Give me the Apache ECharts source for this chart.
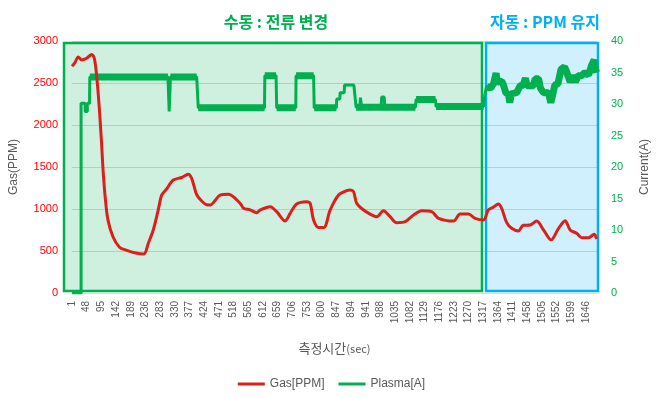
<!DOCTYPE html>
<html>
<head>
<meta charset="utf-8">
<script src="https://cdn.jsdelivr.net/npm/echarts@6.0.0/dist/echarts.min.js"></script>
<style>
  html, body { margin: 0; padding: 0; background: #fff; }
  #chart { width: 663px; height: 398px; }
</style>
</head>
<body>
<div id="chart"></div>
<script>
// gas concentration (left axis)
const gasSec = [1, 10, 21, 32, 48, 64, 72, 79, 88, 95, 101, 108, 116, 132, 153, 174, 201, 231, 245, 261,
  277, 288, 304, 325, 352, 373, 384, 400, 416, 432, 443, 475, 502, 539, 550, 571, 592, 603, 635, 656,
  683, 699, 720, 752, 763, 774, 790, 807, 827, 854, 880, 891, 902, 912, 934, 955, 976, 998, 1019, 1040,
  1067, 1094, 1120, 1152, 1174, 1222, 1243, 1270, 1291, 1318, 1333, 1349, 1365, 1376, 1392, 1408, 1429, 1445, 1467, 1488,
  1510, 1534, 1558, 1579, 1595, 1616, 1632, 1654, 1672, 1680];
const gasPpm = [2700, 2740, 2810, 2775, 2795, 2840, 2800, 2620, 2220, 1820, 1430, 1110, 870, 670, 545, 510, 480, 465, 590, 750,
  990, 1165, 1240, 1345, 1375, 1415, 1365, 1170, 1095, 1050, 1048, 1165, 1175, 1068, 1010, 990, 956, 988, 1028, 968,
  857, 948, 1060, 1087, 1068, 870, 780, 780, 988, 1167, 1218, 1226, 1206, 1068, 988, 940, 908, 980, 908, 837,
  849, 929, 980, 968, 889, 857, 940, 940, 889, 869, 988, 1020, 1060, 1008, 837, 770, 738, 806, 810, 857,
  750, 631, 770, 861, 750, 711, 659, 659, 699, 643];

// plasma current (right axis)
const plasmaSec = [1, 30, 30, 43, 43, 50, 50, 57, 58, 308, 312, 316, 400, 405, 617, 618, 654, 656, 717, 718,
  774, 776, 847, 848, 858, 859, 872, 873, 903, 910, 922, 924, 928, 990, 992, 1000, 1002, 1100, 1102, 1164,
  1166, 1318, 1322, 1328, 1340, 1350, 1358, 1362, 1376, 1382, 1389, 1398, 1402, 1406, 1424, 1435, 1445, 1452, 1457, 1478,
  1483, 1494, 1500, 1510, 1526, 1533, 1538, 1546, 1556, 1566, 1577, 1583, 1595, 1605, 1612, 1620, 1632, 1642, 1654, 1664,
  1672, 1676, 1680];
const plasmaAmp = [0, 0, 30.1, 30.1, 28.8, 28.8, 30.1, 30.1, 34.3, 34.3, 28.8, 34.3, 34.3, 29.4, 29.4, 34.5, 34.5, 29.4, 29.4, 34.5,
  34.5, 29.4, 29.4, 30.8, 30.8, 31.8, 31.8, 33.0, 33.0, 29.5, 29.5, 31.0, 29.5, 29.5, 31.1, 31.1, 29.5, 29.5, 30.7, 30.7,
  29.6, 29.6, 31.5, 32.8, 32.5, 33.2, 34.9, 33.5, 33.6, 33.0, 31.8, 31.5, 30.2, 31.6, 31.8, 32.9, 33.0, 34.1, 32.9, 32.9,
  34.0, 34.0, 32.5, 31.8, 31.8, 30.2, 31.2, 33.0, 33.2, 35.5, 35.9, 35.2, 33.5, 34.5, 33.5, 34.5, 34.5, 35.0, 34.6, 36.2,
  37.0, 35.5, 35.0];

// flat stretches where the current jitters (drawn as a thicker band), null = gap
const noiseSec = [58, 308, null, 316, 400, null, 405, 617, null, 618, 654, null, 656, 717, null, 718, 774, null,
  776, 847, null, 910, 1100, null, 1102, 1164, null, 1166, 1318];
const noiseAmp = [34.3, 34.3, null, 34.3, 34.3, null, 29.4, 29.4, null, 34.5, 34.5, null, 29.4, 29.4, null, 34.5, 34.5, null,
  29.4, 29.4, null, 29.5, 29.5, null, 30.7, 30.7, null, 29.6, 29.6];
const autoStartSec = 1322;

const tickStep = 47;
const lastSec = 1681;

const RED = "#dc1f1b";
const GREEN = "#00b050";
const BLUE = "#00b0f0";
const GRAY = "#595959";

// x axis value = second - 1 so ticks land on 1, 48, 95 ...
const gasData = gasSec.map((s, i) => [s - 1, gasPpm[i]]);
const plasmaData = plasmaSec.map((s, i) => [s - 1, plasmaAmp[i]]);
const noiseData = noiseSec.map((s, i) => (s === null ? ["-", "-"] : [s - 1, noiseAmp[i]]));
plasmaSec.forEach((s, i) => {
  if (s >= autoStartSec) noiseData.push(noiseData.length && s === autoStartSec ? ["-", "-"] : [s - 1, plasmaAmp[i]]);
});

const chart = echarts.init(document.getElementById("chart"));
chart.setOption({
  animation: false,
  textStyle: { fontFamily: "Liberation Sans, Noto Sans CJK KR" },
  grid: { left: 72, right: 66, top: 41, bottom: 105 },
  legend: {
    data: ["Gas[PPM]", "Plasma[A]"],
    left: "center",
    top: 373,
    icon: "rect",
    itemWidth: 27,
    itemHeight: 3,
    itemGap: 14,
    textStyle: { color: GRAY, fontSize: 12 },
  },
  xAxis: {
    type: "value",
    min: 0,
    max: lastSec - 1,
    interval: tickStep,
    name: "{a|측정시간}{b|(sec)}",
    nameLocation: "middle",
    nameGap: 49,
    nameTextStyle: {
      rich: {
        a: { fontSize: 13, color: GRAY, fontFamily: "Noto Sans CJK KR" },
        b: { fontSize: 11, color: GRAY, fontFamily: "Noto Sans CJK KR" },
      },
    },
    axisLine: { lineStyle: { color: "#d9d9d9", width: 1 } },
    axisTick: { show: false },
    splitLine: { show: false },
    axisLabel: {
      rotate: 90,
      fontSize: 10,
      color: GRAY,
      margin: 8,
      showMaxLabel: false,
      formatter: (v) => String(v + 1),
    },
  },
  yAxis: [
    {
      type: "value",
      min: 0,
      max: 3000,
      interval: 500,
      name: "Gas(PPM)",
      nameLocation: "middle",
      nameGap: 52,
      nameTextStyle: { color: GRAY, fontSize: 12 },
      axisLine: { show: false },
      axisTick: { show: false },
      axisLabel: { color: "#ff0000", fontSize: 11, margin: 14, formatter: (v) => String(v) },
      splitLine: { lineStyle: { color: "#d9d9d9", width: 1 } },
    },
    {
      type: "value",
      min: 0,
      max: 40,
      interval: 5,
      name: "Current(A)",
      nameLocation: "middle",
      nameGap: 42,
      nameTextStyle: { color: GRAY, fontSize: 12 },
      axisLine: { show: false },
      axisTick: { show: false },
      axisLabel: { color: GREEN, fontSize: 11, margin: 14, formatter: (v) => String(v) },
      splitLine: { show: false },
    },
  ],
  graphic: [
    {
      type: "rect",
      z: 1,
      shape: { x: 64, y: 43, width: 418, height: 248 },
      style: { fill: "rgba(0,176,80,0.19)", stroke: GREEN, lineWidth: 2.5 },
    },
    {
      type: "rect",
      z: 1,
      shape: { x: 486, y: 43, width: 112, height: 248 },
      style: { fill: "rgba(0,176,240,0.19)", stroke: BLUE, lineWidth: 2.5 },
    },
    {
      type: "text",
      x: 276,
      y: 22,
      style: {
        text: "수동 : 전류 변경",
        fill: GREEN,
        font: "bold 16px 'Noto Sans CJK KR'",
        textAlign: "center",
        textVerticalAlign: "middle",
      },
    },
    {
      type: "text",
      x: 545,
      y: 22,
      style: {
        text: "자동 : PPM 유지",
        fill: BLUE,
        font: "bold 16px 'Noto Sans CJK KR'",
        textAlign: "center",
        textVerticalAlign: "middle",
      },
    },
  ],
  series: [
    {
      name: "Plasma[A]",
      type: "line",
      yAxisIndex: 1,
      data: plasmaData,
      showSymbol: false,
      z: 3,
      lineStyle: { color: GREEN, width: 3 },
      itemStyle: { color: GREEN },
    },
    {
      name: "plasmaNoise",
      type: "line",
      yAxisIndex: 1,
      data: noiseData,
      showSymbol: false,
      connectNulls: false,
      z: 3,
      lineStyle: { color: GREEN, width: 7, cap: "butt" },
      itemStyle: { color: GREEN },
      tooltip: { show: false },
    },
    {
      name: "Gas[PPM]",
      type: "line",
      yAxisIndex: 0,
      data: gasData,
      smooth: 0.3,
      showSymbol: false,
      z: 4,
      lineStyle: { color: RED, width: 3 },
      itemStyle: { color: RED },
    },
  ],
});
</script>
</body>
</html>
